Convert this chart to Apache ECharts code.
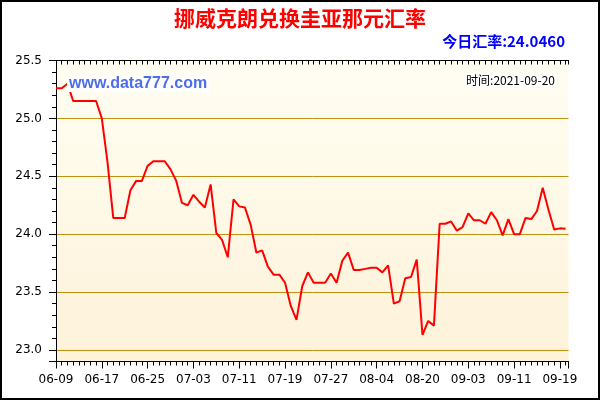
<!DOCTYPE html>
<html>
<head>
<meta charset="utf-8">
<script src="https://cdn.jsdelivr.net/npm/echarts@6/dist/echarts.min.js"></script>
<style>html,body{margin:0;padding:0;background:#fff}#c{width:600px;height:400px}</style>
</head>
<body>
<div id="c"></div>
<script>
// Dates (MM-DD), one per data point
const dates = [
 '06-09','06-10','06-11','06-12','06-13','06-14','06-15','06-16',
 '06-17','06-18','06-19','06-20','06-21','06-22','06-23','06-24',
 '06-25','06-26','06-27','06-28','06-29','06-30','07-01','07-02',
 '07-03','07-04','07-05','07-06','07-07','07-08','07-09','07-10',
 '07-11','07-12','07-13','07-14','07-15','07-16','07-17','07-18',
 '07-19','07-20','07-21','07-22','07-23','07-24','07-25','07-26',
 '07-27','07-28','07-29','07-30','07-31','08-01','08-02','08-03',
 '08-04','08-06','08-08','08-10','08-12','08-14','08-16','08-18',
 '08-20','08-21','08-23','08-25','08-27','08-29','08-31','09-02',
 '09-03','09-04','09-05','09-06','09-07','09-08','09-09','09-10',
 '09-11','09-12','09-13','09-14','09-15','09-16','09-17','09-18',
 '09-19','09-20'
];
// NOK -> GYD rate
const rates = [
 25.26,25.26,25.30,25.15,25.15,25.15,25.15,25.15,
 25.00,24.62,24.14,24.14,24.14,24.38,24.46,24.46,
 24.59,24.63,24.63,24.63,24.56,24.46,24.27,24.25,
 24.34,24.28,24.23,24.43,24.01,23.95,23.80,24.30,
 24.24,24.23,24.08,23.84,23.86,23.72,23.65,23.65,
 23.58,23.38,23.26,23.55,23.67,23.58,23.58,23.58,
 23.66,23.58,23.77,23.84,23.69,23.69,23.70,23.71,
 23.71,23.67,23.73,23.40,23.42,23.62,23.63,23.78,
 23.13,23.25,23.21,24.09,24.09,24.11,24.03,24.06,
 24.18,24.12,24.12,24.09,24.19,24.12,23.99,24.13,
 24.00,24.00,24.14,24.13,24.20,24.40,24.21,24.04,
 24.05,24.046
];
const titleText = '挪威克朗兑换圭亚那元汇率';
const todayText = '今日汇率:24.0460';
const siteText = 'www.data777.com';
const timeText = '时间:2021-09-20';
const yMin = 22.9, yMax = 25.5;
const xMax = 89.5;

const chart = echarts.init(document.getElementById('c'), null, {renderer:'canvas'});
const black = '#000';
const gold = '#C09010';
const font = 'DejaVu Sans';
chart.setOption({
  animation: false,
  backgroundColor: '#fff',
  graphic: [{
    type: 'rect', shape: {x: 1, y: 1, width: 598, height: 398},
    style: {fill: 'none', stroke: '#000', lineWidth: 2}, z: 100, silent: true
  }],
  title: [
    {text: titleText, left: 'center', top: 8, padding: 0,
     textStyle: {color: '#FF0000', fontSize: 21, fontWeight: 'bold', fontFamily: 'Noto Sans CJK SC'}},
    {text: todayText, right: 35, top: 34, padding: 0,
     textStyle: {color: '#0000FF', fontSize: 15, fontWeight: 'bold', fontFamily: 'Noto Sans CJK SC'}},
    {text: siteText, left: 67, top: 76, padding: [0, 2], backgroundColor: '#fff',
     textStyle: {color: '#4B6EE8', fontSize: 16, fontWeight: 'bold', fontFamily: 'Liberation Sans'}},
    {text: timeText, right: 44, top: 73, padding: [1, 1], backgroundColor: '#fff',
     textStyle: {color: '#000', fontSize: 12, fontWeight: 'normal', fontFamily: 'Noto Sans CJK SC'}}
  ],
  grid: {
    left: 56, right: 31.5, top: 60.5, bottom: 38.5, show: true, borderWidth: 0,
    backgroundColor: new echarts.graphic.LinearGradient(0, 0, 0, 1, [
      {offset: 0, color: '#FFFEF3'}, {offset: 1, color: '#FEF2D9'}
    ])
  },
  xAxis: [
    {type: 'value', min: 0, max: xMax, interval: 8, position: 'bottom',
     axisLine: {show: true, lineStyle: {color: black, width: 1}},
     axisTick: {show: true, length: 7, lineStyle: {color: black}},
     axisLabel: {color: black, fontSize: 12, fontFamily: font, margin: 12,
       formatter: v => (Number.isInteger(v) && dates[v]) ? dates[v] : ''},
     splitLine: {show: false}},
    {type: 'value', min: 0, max: xMax, interval: 1, position: 'bottom',
     axisLine: {show: false}, axisTick: {show: true, length: 4, lineStyle: {color: black}},
     axisLabel: {show: false}, splitLine: {show: false}},
    {type: 'value', min: 0, max: xMax, interval: 1, position: 'top',
     axisLine: {show: true, lineStyle: {color: black, width: 1}},
     axisTick: {show: true, inside: true, length: 4, lineStyle: {color: black}},
     axisLabel: {show: false}, splitLine: {show: false}}
  ],
  yAxis: [
    {type: 'value', min: yMin, max: yMax, splitNumber: 5, position: 'left',
     axisLine: {show: true, lineStyle: {color: black, width: 1}},
     axisTick: {show: true, length: 7, lineStyle: {color: black}},
     axisLabel: {color: black, fontSize: 12, fontFamily: font, margin: 14,
       formatter: v => v < yMin + 0.05 ? '' : v.toFixed(1)},
     splitLine: {show: true, lineStyle: {color: gold, width: 1}}},
    {type: 'value', min: yMin, max: yMax, interval: 0.1, position: 'left',
     axisLine: {show: false}, axisTick: {show: true, length: 4, lineStyle: {color: black}},
     axisLabel: {show: false}, splitLine: {show: false}},
    {type: 'value', min: yMin, max: yMax, interval: 0.1, position: 'right',
     axisLine: {show: true, lineStyle: {color: black, width: 1}},
     axisTick: {show: true, inside: true, length: 4, lineStyle: {color: black}},
     axisLabel: {show: false}, splitLine: {show: false}}
  ],
  series: [{
    type: 'line', xAxisIndex: 0, yAxisIndex: 0,
    data: rates.map((v, i) => [i, v]),
    showSymbol: false, symbol: 'none', smooth: false,
    lineStyle: {color: '#FF0000', width: 2}, z: 3
  }]
});
</script>
</body>
</html>
